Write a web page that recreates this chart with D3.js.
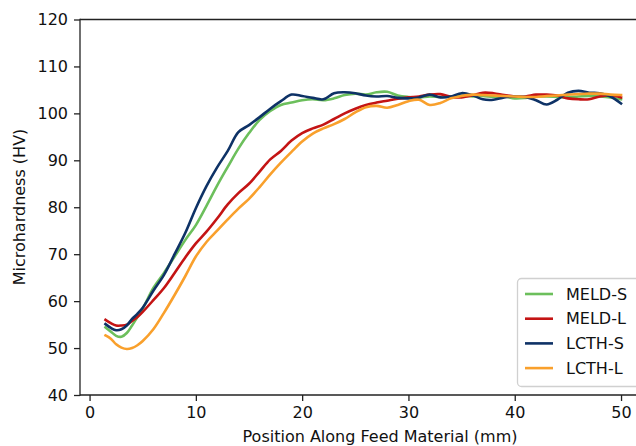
<!DOCTYPE html>
<html><head><meta charset="utf-8">
<script src="https://cdn.jsdelivr.net/npm/d3@7"></script>
<style>body{margin:0;background:#fff}svg{display:block}text{font-family:"DejaVu Sans",sans-serif}</style>
</head><body><svg id="c" width="636" height="446"></svg>
<script>
const positions = [1.5,2,2.5,3,3.5,4,4.5,5,6,7,8,9,10,11,12,13,14,15,16,17,18,19,20,21,22,23,24,25,26,27,28,29,30,31,32,33,34,35,36,37,38,39,40,41,42,43,44,45,46,47,48,49,50];
const meldS = [54.4,53.5,52.6,52.4,53.2,54.8,56.6,58.4,62.8,66.0,69.5,73.0,76.2,80.3,84.6,88.6,92.5,95.8,98.6,100.5,101.8,102.3,102.8,103.0,102.8,103.2,103.9,104.2,104.0,104.5,104.6,103.8,103.5,103.4,103.6,103.5,103.6,103.8,103.6,103.7,103.5,103.6,103.2,103.3,103.6,103.6,103.5,103.4,103.6,103.7,103.6,103.4,103.0];
const meldL = [56.0,55.3,54.8,54.8,55.0,55.8,56.6,57.7,60.2,62.8,66.0,69.3,72.3,74.8,77.6,80.6,83.0,85.0,87.6,90.2,92.0,94.2,95.8,96.8,97.6,98.8,100.0,101.0,101.8,102.3,102.7,103.1,103.4,103.6,104.0,104.1,103.5,103.4,103.8,104.4,104.3,103.9,103.6,103.6,104.0,104.0,103.8,103.2,103.0,103.0,103.6,103.8,103.4];
const lcthS = [55.1,54.3,53.8,54.0,54.8,56.2,57.3,58.6,62.2,65.6,70.0,74.5,79.8,84.5,88.5,92.0,96.0,97.5,99.2,101.0,102.6,104.0,103.7,103.3,103.0,104.3,104.5,104.3,103.8,103.6,103.7,103.3,103.2,103.4,104.0,103.4,103.6,104.3,103.9,103.0,102.9,103.4,103.6,103.5,102.8,101.9,102.9,104.4,104.8,104.4,104.3,103.6,102.1];
const lcthL = [52.7,52.0,50.8,50.1,49.8,50.0,50.6,51.5,54.0,57.5,61.3,65.3,69.5,72.6,75.0,77.4,79.7,81.8,84.3,87.0,89.5,91.8,94.0,95.7,96.8,97.7,98.8,100.2,101.3,101.6,101.2,101.8,102.6,102.9,101.8,102.2,103.2,103.7,104.0,103.9,103.8,103.7,103.6,103.5,103.5,103.7,103.8,104.0,104.1,104.2,104.2,104.0,103.9];
const seriesNames = ["MELD-S","MELD-L","LCTH-S","LCTH-L"];
const seriesColors = ["#6cbf5c","#c41414","#0e3266","#f9a02c"];
const xTicks = [0,10,20,30,40,50];
const yTicks = [40,50,60,70,80,90,100,110,120];

const svg = d3.select("#c");
const x = d3.scaleLinear().domain([-0.9, 55.5]).range([80, 679.5]);
const y = d3.scaleLinear().domain([40, 120]).range([395, 19.5]);
const fs = 16;

// lines
const allSeries = [meldS, meldL, lcthS, lcthL];
const line = d3.line().x((d,i)=>x(positions[i])).y(d=>y(d)).curve(d3.curveCatmullRom.alpha(0.5));
allSeries.forEach((s,k)=>{
  svg.append("path").datum(s).attr("d",line).attr("fill","none")
    .attr("stroke",seriesColors[k]).attr("stroke-width",2.6).attr("stroke-linejoin","round").attr("stroke-linecap","square");
});

// spines
const sp = svg.append("g").attr("stroke","#222").attr("stroke-width",1.3);
sp.append("line").attr("x1",x.range()[0]).attr("x2",x.range()[1]).attr("y1",y(120)).attr("y2",y(120));
sp.append("line").attr("x1",x.range()[0]).attr("x2",x.range()[1]).attr("y1",y(40)).attr("y2",y(40));
sp.append("line").attr("x1",x.range()[0]).attr("x2",x.range()[0]).attr("y1",y(40)+0.65).attr("y2",y(120)-0.65);

// axes
const xAxis = d3.axisBottom(x).tickValues(xTicks).tickSize(6).tickPadding(6).tickFormat(d3.format("d"));
const gx = svg.append("g").attr("transform",`translate(0,${y(40)})`).call(xAxis);
const yAxis = d3.axisLeft(y).tickValues(yTicks).tickSize(6).tickPadding(6).tickFormat(d3.format("d"));
const gy = svg.append("g").attr("transform",`translate(${x.range()[0]},0)`).call(yAxis);
[gx,gy].forEach(g=>{
  g.select(".domain").remove();
  g.selectAll(".tick line").attr("stroke","#222").attr("stroke-width",1.3);
  g.selectAll(".tick text").attr("fill","#111").style("font-size",fs+"px").style("font-family","DejaVu Sans");
});

svg.append("text").attr("x",380).attr("y",442).attr("text-anchor","middle")
  .style("font-size",fs+"px").attr("fill","#111").text("Position Along Feed Material (mm)");
svg.append("text").attr("transform","translate(25,207) rotate(-90)").attr("text-anchor","middle")
  .style("font-size",fs+"px").attr("fill","#111").text("Microhardness (HV)");

// legend
const lg = svg.append("g");
lg.append("rect").attr("x",517.5).attr("y",278.5).attr("width",160).attr("height",108).attr("rx",4)
  .attr("fill","#fff").attr("fill-opacity",0.8).attr("stroke","#d0d0d0").attr("stroke-width",1.3);
seriesNames.forEach((n,k)=>{
  const yy = 294 + k*24.7;
  lg.append("line").attr("x1",525).attr("x2",553).attr("y1",yy).attr("y2",yy)
    .attr("stroke",seriesColors[k]).attr("stroke-width",2.6);
  lg.append("text").attr("x",566).attr("y",yy).attr("dy","0.36em").style("font-size",fs+"px").attr("fill","#111").text(n);
});
</script></body></html>
